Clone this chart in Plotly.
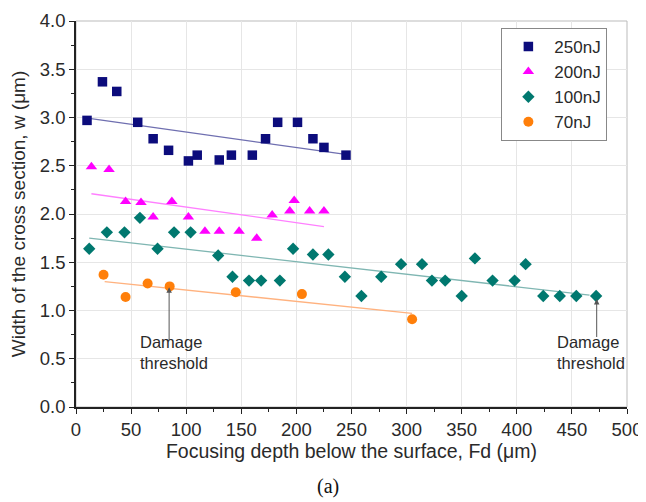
import plotly.graph_objects as go

# ---- data ----
x250 = [10, 24, 37, 56, 70, 84, 102, 110, 130, 141, 160, 172, 183, 201, 215, 225, 245]
y250 = [2.97, 3.37, 3.27, 2.95, 2.78, 2.66, 2.55, 2.61, 2.56, 2.61, 2.61, 2.78, 2.95, 2.95, 2.78, 2.69, 2.61]
fit250_x = [12, 243]
fit250_y = [2.99, 2.62]

x200 = [14, 30, 45, 59, 70, 87, 102, 117, 130, 148, 164, 178, 194, 198, 212, 225]
y200 = [2.49, 2.46, 2.13, 2.12, 1.97, 2.13, 1.97, 1.82, 1.82, 1.82, 1.75, 1.99, 2.03, 2.14, 2.03, 2.03]
fit200_x = [14, 225]
fit200_y = [2.21, 1.87]

x100 = [12, 28, 44, 58, 74, 89, 104, 129, 142, 157, 168, 185, 197, 215, 229, 244, 259, 277,
        295, 314, 323, 335, 350, 362, 378, 398, 408, 424, 439, 454, 472]
y100 = [1.64, 1.81, 1.81, 1.96, 1.64, 1.81, 1.81, 1.57, 1.35, 1.31, 1.31, 1.31, 1.64, 1.58, 1.58,
        1.35, 1.15, 1.35, 1.48, 1.48, 1.31, 1.31, 1.15, 1.54, 1.31, 1.31, 1.48, 1.15, 1.15, 1.15, 1.15]
fit100_x = [12, 466]
fit100_y = [1.75, 1.16]

x70 = [25, 45, 65, 85, 145, 205, 305]
y70 = [1.37, 1.14, 1.28, 1.25, 1.19, 1.17, 0.91]
fit70_x = [26, 305]
fit70_y = [1.30, 0.97]

series = [
    ("250nJ", x250, y250, fit250_x, fit250_y, "#0c0c7c", "#6f6fb0", "square", 9.5),
    ("200nJ", x200, y200, fit200_x, fit200_y, "#ff00ff", "#ff7fff", "triangle-up", 10),
    ("100nJ", x100, y100, fit100_x, fit100_y, "#00786f", "#7fb6b2", "diamond", 9.5),
    ("70nJ", x70, y70, fit70_x, fit70_y, "#ff7f0a", "#ffb27f", "circle", 10),
]

fig = go.Figure()
for name, xs, ys, fx, fy, mc, lc, sym, sz in series:
    fig.add_trace(go.Scatter(x=fx, y=fy, mode="lines", line=dict(color=lc, width=1.3),
                             showlegend=False, hoverinfo="skip"))
for name, xs, ys, fx, fy, mc, lc, sym, sz in series:
    fig.add_trace(go.Scatter(x=xs, y=ys, mode="markers", name=name,
                             marker=dict(symbol=sym, size=sz, color=mc, line=dict(width=0))))

font = "Liberation Sans, Arial, sans-serif"
txtc = "#2a2a2a"

# annotations: damage thresholds
for ax_x, head_y, tail_y, tx in [(84.5, 1.24, 0.68, 56), (472.5, 1.12, 0.71, 435)]:
    fig.add_annotation(x=ax_x, y=head_y, ax=ax_x, ay=tail_y, axref="x", ayref="y",
                       xref="x", yref="y", text="", showarrow=True, arrowhead=2,
                       arrowsize=1.1, arrowwidth=1, arrowcolor="#555555")
    fig.add_annotation(x=tx, y=0.57, xref="x", yref="y", text="Damage<br>threshold",
                       showarrow=False, xanchor="left", yanchor="middle", align="left",
                       font=dict(family=font, size=16.5, color=txtc))

fig.add_annotation(x=0.458, y=-0.207, xref="paper", yref="paper", text="(a)", showarrow=False,
                   xanchor="center", yanchor="middle",
                   font=dict(family="Liberation Serif, Times New Roman, serif", size=20, color="#111"))

# light frame (top and right)
fig.add_shape(type="rect", xref="paper", yref="paper", x0=0, y0=0, x1=1, y1=1,
              line=dict(color="#bbbbbb", width=1), layer="below")

# page has an 8px body margin: figure is sized to fit the 646x502 window
fig.update_layout(
    width=638, height=494,
    margin=dict(l=68, r=19, t=13, b=95),
    paper_bgcolor="white", plot_bgcolor="white",
    font=dict(family=font, size=18, color=txtc),
    legend=dict(x=0.772, y=0.982, xanchor="left", yanchor="top",
                bordercolor="#888888", borderwidth=1, bgcolor="white",
                font=dict(family=font, size=17, color=txtc),
                itemwidth=42, tracegroupgap=0),
)
fig.update_xaxes(range=[0, 500], dtick=50, tick0=0, showgrid=True, gridcolor="#e6e6e6",
                 showline=True, linecolor="#222", linewidth=1.5, ticks="outside", ticklen=5,
                 tickcolor="#222", zeroline=False, automargin=False,
                 minor=dict(dtick=25, ticks="outside", ticklen=3, tickcolor="#222", showgrid=False),
                 title=dict(text="Focusing depth below the surface, Fd (μm)", standoff=4,
                            font=dict(size=19.5)),
                 tickfont=dict(size=18.5))
fig.update_yaxes(range=[0, 4.0], dtick=0.5, tick0=0, tickformat=".1f", showgrid=True,
                 gridcolor="#e6e6e6", showline=True, linecolor="#222", linewidth=1.5,
                 ticks="outside", ticklen=5, tickcolor="#222", zeroline=False, automargin=False,
                 minor=dict(dtick=0.25, ticks="outside", ticklen=3, tickcolor="#222", showgrid=False),
                 title=dict(text="Width of the cross section, w (μm)", standoff=10,
                            font=dict(size=19)),
                 tickfont=dict(size=18.5))

fig.write_html("out.html")
